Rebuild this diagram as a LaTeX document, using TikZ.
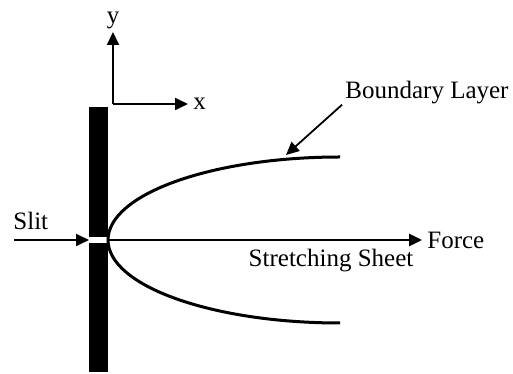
\documentclass[tikz,border=0pt]{standalone}
\usepackage{fontspec}
\setmainfont{Liberation Serif}
\usetikzlibrary{arrows.meta, positioning}
\tikzset{
  wall/.style={fill=black, draw=none},
  thinarrow/.style={-{Triangle[length=6.5pt, width=6pt]}, line width=0.9pt},
  thickline/.style={line width=1.5pt},
  sheetarrow/.style={-{Triangle[length=6.5pt, width=6pt]}, line width=1.3pt},
  label/.style={font=\fontsize{12.5}{15}\selectfont, inner sep=0pt},
}

\begin{document}
\begin{tikzpicture}[x=0.5pt, y=0.5pt]
  \useasboundingbox (0,0) rectangle (513,374);

  % Wall with slit
  \fill[wall] (89,2) rectangle (108,131);
  \fill[wall] (89,137) rectangle (108,267);

  % Axes
  \coordinate (origin) at (113,270);
  \coordinate (ytip) at (113,342);
  \coordinate (xtip) at (188,270);
  \draw[thinarrow] (origin) -- (ytip);
  \draw[thinarrow] (origin) -- (xtip);
  \node[label, above=1.5pt of ytip] (ylbl) {y};
  \node[label, right=2.5pt of xtip] (xlbl) {x};

  % Slit
  \coordinate (slitin) at (14,134);
  \coordinate (slit) at (89,134);
  \node[label, anchor=base west] (slitlbl) at (13,144) {Slit};
  \draw[thinarrow] (slitin) -- (slit);

  % Stretching sheet
  \coordinate (nose) at (108,134);
  \coordinate (sheetend) at (422,134);
  \draw[sheetarrow] (nose) -- (sheetend);
  \node[label, right=2.5pt of sheetend] (force) {Force};
  \node[label] (sheetlbl) at (331,113) {Stretching Sheet};

  % Boundary layer
  \draw[thickline] (340,217) arc[start angle=90, end angle=270,
    x radius=232, y radius=83];
  \node[label, anchor=west] (bl) at (345,281) {Boundary Layer};
  \coordinate (bltip) at (286,219);
  \draw[thinarrow] ([xshift=-1.5pt]bl.south west) -- (bltip);

\end{tikzpicture}
\end{document}
